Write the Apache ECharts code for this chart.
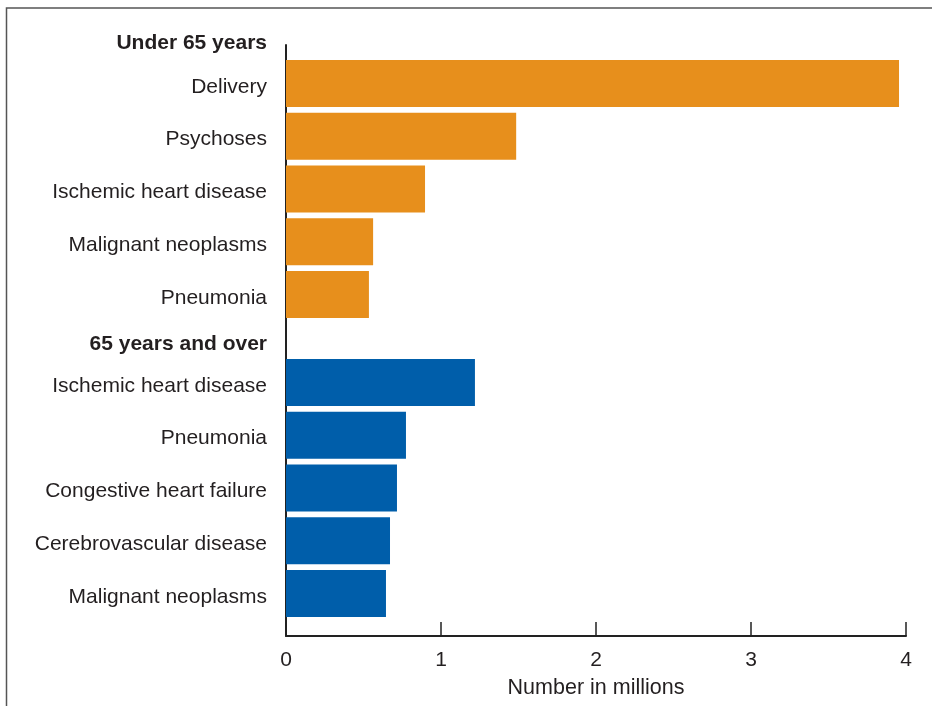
<!DOCTYPE html>
<html>
<head>
<meta charset="utf-8">
<script src="https://cdn.jsdelivr.net/npm/echarts@6/dist/echarts.min.js"></script>
<style>
html,body{margin:0;padding:0;background:#fff;}
#c{width:932px;height:706px;}
</style>
</head>
<body>
<div id="c"></div>
<script>
const groupTitles = ['Under 65 years', '65 years and over'];
const under65Cats = ['Delivery', 'Psychoses', 'Ischemic heart disease', 'Malignant neoplasms', 'Pneumonia'];
const under65Vals = [3.955, 1.485, 0.897, 0.562, 0.535];
const over65Cats = ['Ischemic heart disease', 'Pneumonia', 'Congestive heart failure', 'Cerebrovascular disease', 'Malignant neoplasms'];
const over65Vals = [1.219, 0.774, 0.716, 0.671, 0.645];
const xTicks = [0, 1, 2, 3, 4];
const xName = 'Number in millions';

const FONT = '"Liberation Sans", Arial, Helvetica, sans-serif';
const TXT = '#231f20';
const ORANGE = '#E78F1C';
const BLUE = '#005EAA';

const chart = echarts.init(document.getElementById('c'), null, {renderer: 'canvas'});

function catAxis(gridIndex, cats, title, gap) {
  return {
    type: 'category', gridIndex, data: cats, inverse: true,
    axisLine: {show: false}, axisTick: {show: false},
    axisLabel: {
      margin: 19, fontSize: 21, color: TXT, fontFamily: FONT,
      formatter: v => '{a|' + v + '}',
      rich: {a: {fontSize: 21, color: TXT, fontFamily: FONT, padding: [7, 0, 0, 0]}}
    },
    name: title, nameLocation: 'start', nameGap: gap,
    nameTextStyle: {align: 'right', verticalAlign: 'middle', padding: [0, 19, 0, 0],
      fontSize: 21, fontWeight: 'bold', color: TXT, fontFamily: FONT}
  };
}
function hiddenX(gridIndex) {
  return {type: 'value', gridIndex, min: xTicks[0], max: xTicks[xTicks.length - 1], interval: 1, show: false};
}

chart.setOption({
  animation: false,
  backgroundColor: '#fff',
  textStyle: {fontFamily: FONT},
  graphic: [{
    type: 'rect', shape: {x: 6.5, y: 8, width: 940, height: 720},
    style: {fill: 'none', stroke: '#555', lineWidth: 1.5}, silent: true, z: -1
  }],
  grid: [
    {left: 286, width: 620, top: 45, bottom: 70},
    {left: 286, width: 620, top: 57, height: 264},
    {left: 286, width: 620, top: 356, height: 264}
  ],
  xAxis: [
    {
      type: 'value', gridIndex: 0, min: xTicks[0], max: xTicks[xTicks.length - 1], interval: 1,
      axisLine: {show: true, lineStyle: {color: '#222', width: 2}},
      axisTick: {show: true, inside: true, length: 14, lineStyle: {color: '#222', width: 1.5}},
      axisLabel: {margin: 14, fontSize: 21, color: TXT, fontFamily: FONT},
      splitLine: {show: false},
      name: xName, nameLocation: 'middle', nameGap: 41,
      nameTextStyle: {fontSize: 21.5, color: TXT, fontFamily: FONT, verticalAlign: 'top'}
    },
    hiddenX(1), hiddenX(2)
  ],
  yAxis: [
    {
      type: 'value', gridIndex: 0, min: 0, max: 1,
      axisLine: {show: true, lineStyle: {color: '#222', width: 2}},
      axisTick: {show: false}, axisLabel: {show: false}, splitLine: {show: false}
    },
    catAxis(1, under65Cats, groupTitles[0], 14),
    catAxis(2, over65Cats, groupTitles[1], 12)
  ],
  series: [
    {type: 'bar', xAxisIndex: 1, yAxisIndex: 1, data: under65Vals, barWidth: 47,
     itemStyle: {color: ORANGE}},
    {type: 'bar', xAxisIndex: 2, yAxisIndex: 2, data: over65Vals, barWidth: 47,
     itemStyle: {color: BLUE}}
  ]
});
</script>
</body>
</html>
